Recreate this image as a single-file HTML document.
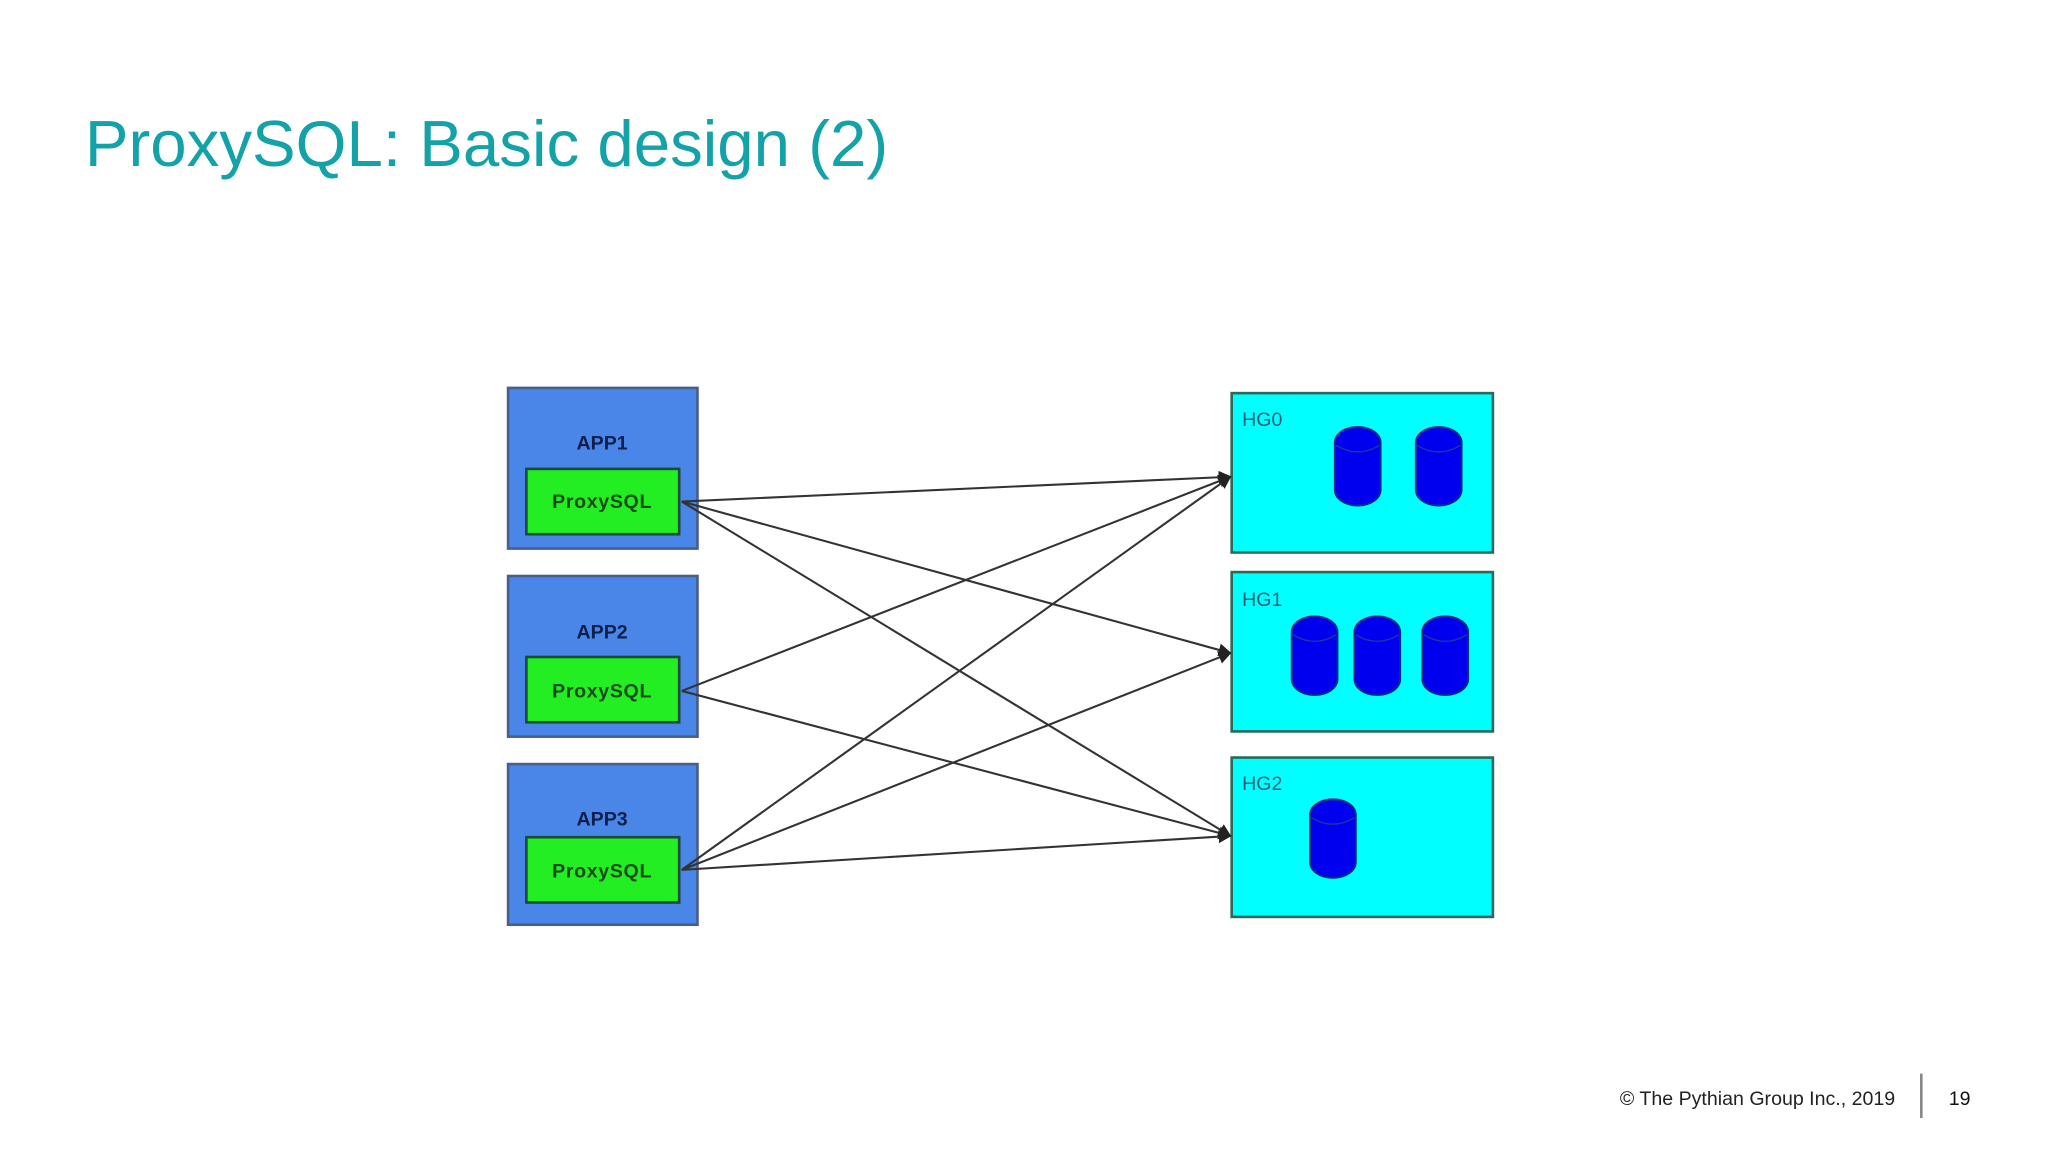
<!DOCTYPE html>
<html><head><meta charset="utf-8"><style>
html,body{margin:0;padding:0;background:#fff;}
svg{display:block;}
</style></head><body>
<svg width="2048" height="1152" viewBox="0 0 1568 882" xmlns="http://www.w3.org/2000/svg">
<defs>
<marker id="ah" markerWidth="10" markerHeight="10" refX="9" refY="5" orient="auto" markerUnits="userSpaceOnUse">
<path d="M0,0 L10,5 L0,10 z" fill="#222"/>
</marker>
<g id="cyl">
<rect x="0" y="0" width="35" height="60" rx="17" ry="12" fill="#0000ee" stroke="#0b2a8a" stroke-width="1.5"/>
<path d="M1,14 Q17.5,24 34,14" fill="none" stroke="#1a3aa0" stroke-width="1"/>
</g>
</defs>
<rect width="1568" height="882" fill="#fff"/>
<text x="65" y="127" font-family="Liberation Sans, sans-serif" font-size="50" fill="#12a2a8" textLength="615" lengthAdjust="spacingAndGlyphs">ProxySQL: Basic design (2)</text>

<g stroke="#4a5e8a" stroke-width="2">
<rect x="389" y="297" width="145" height="123" fill="#4a86e8"/>
<rect x="389" y="441" width="145" height="123" fill="#4a86e8"/>
<rect x="389" y="585" width="145" height="123" fill="#4a86e8"/>
</g>
<g stroke="#1a4a3a" stroke-width="2" fill="#22ee22">
<rect x="403" y="359" width="117" height="50"/>
<rect x="403" y="503" width="117" height="50"/>
<rect x="403" y="641" width="117" height="50"/>
</g>
<g font-family="Liberation Sans, sans-serif" font-weight="bold" font-size="15" fill="#0d1f4a" text-anchor="middle">
<text x="461" y="344">APP1</text>
<text x="461" y="489">APP2</text>
<text x="461" y="632">APP3</text>
</g>
<g font-family="Liberation Sans, sans-serif" font-weight="bold" font-size="15" fill="#1a4a1a" text-anchor="middle" letter-spacing="0.5">
<text x="461" y="389">ProxySQL</text>
<text x="461" y="534">ProxySQL</text>
<text x="461" y="672">ProxySQL</text>
</g>

<g stroke="#2a6a5a" stroke-width="2" fill="#00ffff">
<rect x="943" y="301" width="200" height="122"/>
<rect x="943" y="438" width="200" height="122"/>
<rect x="943" y="580" width="200" height="122"/>
</g>
<g font-family="Liberation Sans, sans-serif" font-size="15" fill="#206070">
<text x="951" y="326">HG0</text>
<text x="951" y="464">HG1</text>
<text x="951" y="605">HG2</text>
</g>
<use href="#cyl" x="1022" y="327"/>
<use href="#cyl" x="1084" y="327"/>
<use href="#cyl" x="989" y="472"/>
<use href="#cyl" x="1037" y="472"/>
<use href="#cyl" x="1089" y="472"/>
<use href="#cyl" x="1003" y="612"/>

<g stroke="#333" stroke-width="1.6" fill="none" marker-end="url(#ah)">
<line x1="522" y1="384" x2="942" y2="365"/>
<line x1="522" y1="384" x2="942" y2="500"/>
<line x1="522" y1="384" x2="942" y2="640"/>
<line x1="522" y1="529" x2="942" y2="365"/>
<line x1="522" y1="529" x2="942" y2="640"/>
<line x1="522" y1="666" x2="942" y2="365"/>
<line x1="522" y1="666" x2="942" y2="500"/>
<line x1="522" y1="666" x2="942" y2="640"/>
</g>

<text x="1451" y="846" font-family="Liberation Sans, sans-serif" font-size="15" fill="#222" text-anchor="end">© The Pythian Group Inc., 2019</text>
<line x1="1471" y1="822" x2="1471" y2="856" stroke="#888" stroke-width="2"/>
<text x="1492" y="846" font-family="Liberation Sans, sans-serif" font-size="15" fill="#111">19</text>
</svg>
</body></html>
